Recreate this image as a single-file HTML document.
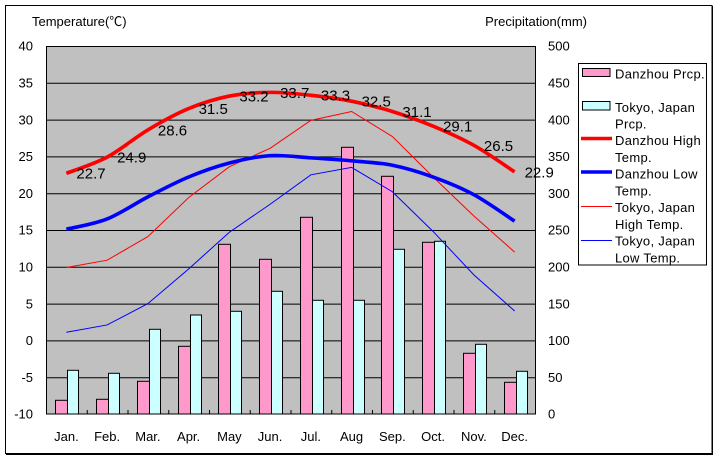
<!DOCTYPE html>
<html><head><meta charset="utf-8"><style>
html,body{margin:0;padding:0;background:#fff;}
svg{display:block;font-family:"Liberation Sans","Noto Sans CJK JP",sans-serif;}
</style></head><body>
<svg width="720" height="460" viewBox="0 0 720 460" xmlns="http://www.w3.org/2000/svg">
<rect x="0" y="0" width="720" height="460" fill="#fff"/>
<!-- outer frame -->
<rect x="5.5" y="5.5" width="706.5" height="448" fill="none" stroke="#000" stroke-width="1"/>
<line x1="712.5" y1="6" x2="712.5" y2="455" stroke="#000" stroke-width="1"/>
<line x1="6" y1="454.5" x2="713" y2="454.5" stroke="#000" stroke-width="1"/>

<!-- plot area -->
<rect x="46.5" y="46.5" width="489" height="367.5" fill="#c0c0c0" stroke="#000" stroke-width="1"/>
<g stroke="#000" stroke-width="1">
<line x1="46" y1="83.3" x2="536" y2="83.3"/>
<line x1="46" y1="120.1" x2="536" y2="120.1"/>
<line x1="46" y1="156.9" x2="536" y2="156.9"/>
<line x1="46" y1="193.7" x2="536" y2="193.7"/>
<line x1="46" y1="230.5" x2="536" y2="230.5"/>
<line x1="46" y1="267.3" x2="536" y2="267.3"/>
<line x1="46" y1="304.1" x2="536" y2="304.1"/>
<line x1="46" y1="340.9" x2="536" y2="340.9"/>
<line x1="46" y1="377.7" x2="536" y2="377.7"/>
</g>
<!-- bottom ticks -->
<g stroke="#000" stroke-width="1">
<line x1="87.25" y1="410" x2="87.25" y2="414"/>
<line x1="128" y1="410" x2="128" y2="414"/>
<line x1="168.75" y1="410" x2="168.75" y2="414"/>
<line x1="209.5" y1="410" x2="209.5" y2="414"/>
<line x1="250.25" y1="410" x2="250.25" y2="414"/>
<line x1="291" y1="410" x2="291" y2="414"/>
<line x1="331.75" y1="410" x2="331.75" y2="414"/>
<line x1="372.5" y1="410" x2="372.5" y2="414"/>
<line x1="413.25" y1="410" x2="413.25" y2="414"/>
<line x1="454" y1="410" x2="454" y2="414"/>
<line x1="494.75" y1="410" x2="494.75" y2="414"/>
</g>

<!-- bars -->
<g stroke="#000" stroke-width="1">
<rect x="55.5" y="400.3" width="12" height="13.7" fill="#ff99cc"/>
<rect x="67.5" y="370.3" width="11" height="43.7" fill="#ccffff"/>
<rect x="96.5" y="399.3" width="12" height="14.7" fill="#ff99cc"/>
<rect x="108.5" y="373.3" width="11" height="40.7" fill="#ccffff"/>
<rect x="137.5" y="381.3" width="12" height="32.7" fill="#ff99cc"/>
<rect x="149.5" y="329.3" width="11" height="84.7" fill="#ccffff"/>
<rect x="178.5" y="346.3" width="12" height="67.7" fill="#ff99cc"/>
<rect x="190.5" y="315" width="11" height="99" fill="#ccffff"/>
<rect x="218.5" y="244.3" width="12" height="169.7" fill="#ff99cc"/>
<rect x="230.5" y="311.3" width="11" height="102.7" fill="#ccffff"/>
<rect x="259.5" y="259.3" width="12" height="154.7" fill="#ff99cc"/>
<rect x="271.5" y="291.3" width="11" height="122.7" fill="#ccffff"/>
<rect x="300.5" y="217.3" width="12" height="196.7" fill="#ff99cc"/>
<rect x="312.5" y="300.3" width="11" height="113.7" fill="#ccffff"/>
<rect x="341.5" y="147.3" width="12" height="266.7" fill="#ff99cc"/>
<rect x="353.5" y="300.3" width="11" height="113.7" fill="#ccffff"/>
<rect x="381.5" y="176.3" width="12" height="237.7" fill="#ff99cc"/>
<rect x="393.5" y="249.3" width="11" height="164.7" fill="#ccffff"/>
<rect x="422.5" y="242.3" width="12" height="171.7" fill="#ff99cc"/>
<rect x="434.5" y="241.3" width="11" height="172.7" fill="#ccffff"/>
<rect x="463.5" y="353.3" width="12" height="60.7" fill="#ff99cc"/>
<rect x="475.5" y="344.3" width="11" height="69.7" fill="#ccffff"/>
<rect x="504.5" y="382.3" width="12" height="31.7" fill="#ff99cc"/>
<rect x="516.5" y="371.3" width="11" height="42.7" fill="#ccffff"/>
</g>

<!-- Tokyo lines -->
<polyline fill="none" stroke="#ff0000" stroke-width="1" points="66.38,267.54 107.13,260.18 147.88,236.62 188.63,197.62 229.38,166.7 270.13,148.3 310.88,120.34 351.63,111.5 392.38,136.53 433.13,177.0 473.88,216.02 514.63,252.08"/>
<polyline fill="none" stroke="#0000ff" stroke-width="1" points="66.38,332.3 107.13,324.94 147.88,303.6 188.63,269.0 229.38,232.21 270.13,204.24 310.88,174.8 351.63,167.44 392.38,191.73 433.13,231.47 473.88,274.9 514.63,310.96"/>

<!-- Danzhou lines -->
<path fill="none" stroke="#0000ff" stroke-width="3.6" stroke-linecap="butt" d="M66.38,229.26 C73.17,227.54 93.55,224.36 107.13,218.96 C120.71,213.56 134.30,203.87 147.88,196.88 C161.46,189.89 175.05,182.65 188.63,177.01 C202.21,171.37 215.80,166.58 229.38,163.02 C242.96,159.46 256.55,156.52 270.13,155.66 C283.71,154.80 297.30,157.01 310.88,157.87 C324.46,158.73 338.05,159.59 351.63,160.82 C365.21,162.05 378.80,162.53 392.38,165.23 C405.96,167.93 419.55,172.10 433.13,177.01 C446.71,181.92 460.30,187.31 473.88,194.67 C487.46,202.03 507.84,216.75 514.63,221.17"/>
<path fill="none" stroke="#ff0000" stroke-width="3.6" stroke-linecap="butt" d="M66.38,173.33 C73.17,170.63 93.55,164.38 107.13,157.14 C120.71,149.90 134.30,138.00 147.88,129.90 C161.46,121.80 175.05,114.20 188.63,108.56 C202.21,102.92 215.80,98.75 229.38,96.05 C242.96,93.35 256.55,92.49 270.13,92.37 C283.71,92.25 297.30,93.84 310.88,95.31 C324.46,96.78 338.05,98.50 351.63,101.2 C365.21,103.90 378.80,107.33 392.38,111.50 C405.96,115.67 419.55,120.58 433.13,126.22 C446.71,131.86 460.30,137.75 473.88,145.36 C487.46,152.97 507.84,167.44 514.63,171.86"/>

<!-- data labels -->
<g font-size="15" fill="#000">
<text x="76.4" y="178.7">22.7</text>
<text x="117.1" y="162.5">24.9</text>
<text x="157.9" y="135.3">28.6</text>
<text x="198.6" y="114.0">31.5</text>
<text x="239.4" y="101.5">33.2</text>
<text x="280.1" y="97.8">33.7</text>
<text x="320.9" y="100.7">33.3</text>
<text x="361.6" y="106.6">32.5</text>
<text x="402.4" y="116.9">31.1</text>
<text x="443.1" y="131.6">29.1</text>
<text x="483.9" y="150.8">26.5</text>
<text x="524.6" y="177.3">22.9</text>
</g>

<!-- axis titles -->
<g font-size="13" fill="#000">
<text x="32" y="26">Temperature(℃)</text>
<text x="587" y="26" text-anchor="end">Precipitation(mm)</text>
</g>

<!-- left axis labels -->
<g font-size="13" fill="#000" text-anchor="end">
<text x="33" y="50.7">40</text>
<text x="33" y="87.5">35</text>
<text x="33" y="124.3">30</text>
<text x="33" y="161.1">25</text>
<text x="33" y="197.9">20</text>
<text x="33" y="234.7">15</text>
<text x="33" y="271.5">10</text>
<text x="33" y="308.3">5</text>
<text x="33" y="345.1">0</text>
<text x="33" y="381.9">-5</text>
<text x="33" y="418.7">-10</text>
</g>

<!-- right axis labels -->
<g font-size="13" fill="#000">
<text x="548" y="50.7">500</text>
<text x="548" y="87.5">450</text>
<text x="548" y="124.3">400</text>
<text x="548" y="161.1">350</text>
<text x="548" y="197.9">300</text>
<text x="548" y="234.7">250</text>
<text x="548" y="271.5">200</text>
<text x="548" y="308.3">150</text>
<text x="548" y="345.1">100</text>
<text x="548" y="381.9">50</text>
<text x="548" y="418.7">0</text>
</g>

<!-- month labels -->
<g font-size="13" fill="#000" text-anchor="middle">
<text x="66.4" y="441">Jan.</text>
<text x="107.1" y="441">Feb.</text>
<text x="147.9" y="441">Mar.</text>
<text x="188.6" y="441">Apr.</text>
<text x="229.4" y="441">May</text>
<text x="270.1" y="441">Jun.</text>
<text x="310.9" y="441">Jul.</text>
<text x="351.6" y="441">Aug</text>
<text x="392.4" y="441">Sep.</text>
<text x="433.1" y="441">Oct.</text>
<text x="473.9" y="441">Nov.</text>
<text x="514.6" y="441">Dec.</text>
</g>

<!-- legend -->
<rect x="578.5" y="63.5" width="128" height="201.5" fill="#fff" stroke="#000" stroke-width="1"/>
<rect x="582.5" y="68.5" width="27.5" height="8" fill="#ff99cc" stroke="#000" stroke-width="1"/>
<rect x="582.5" y="101.5" width="27.5" height="8.5" fill="#ccffff" stroke="#000" stroke-width="1"/>
<line x1="581" y1="138.5" x2="612" y2="138.5" stroke="#ff0000" stroke-width="3.5"/>
<line x1="581" y1="172" x2="612" y2="172" stroke="#0000ff" stroke-width="3.5"/>
<line x1="581" y1="206.5" x2="612" y2="206.5" stroke="#ff0000" stroke-width="1"/>
<line x1="581" y1="240.5" x2="612" y2="240.5" stroke="#0000ff" stroke-width="1"/>
<g font-size="13" fill="#000" letter-spacing="0.3">
<text x="615" y="78.3">Danzhou Prcp.</text>
<text x="615" y="111.8">Tokyo, Japan</text>
<text x="615" y="128.5">Prcp.</text>
<text x="615" y="145.2">Danzhou High</text>
<text x="615" y="162">Temp.</text>
<text x="615" y="178.7">Danzhou Low</text>
<text x="615" y="195.4">Temp.</text>
<text x="615" y="212.2">Tokyo, Japan</text>
<text x="615" y="228.9">High Temp.</text>
<text x="615" y="245.6">Tokyo, Japan</text>
<text x="615" y="262.3">Low Temp.</text>
</g>
</svg>
</body></html>
